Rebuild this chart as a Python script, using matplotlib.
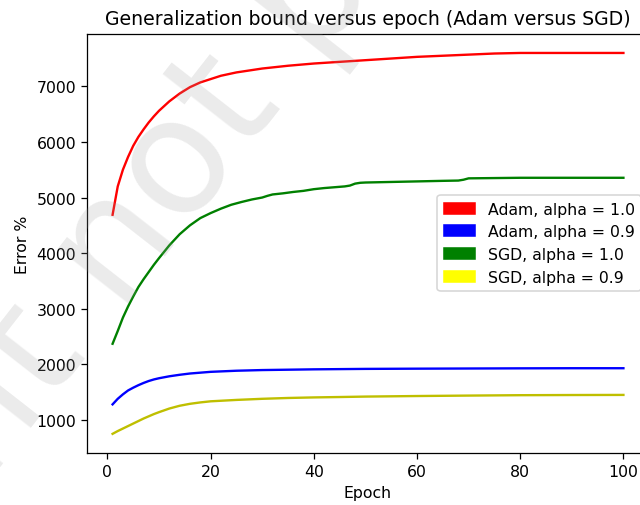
import matplotlib
matplotlib.use("Agg")
import matplotlib.pyplot as plt
import matplotlib.patches as mpatches

# Generalization bound per epoch for each optimiser / alpha setting
adam_10_epochs = [1, 2, 3, 4, 5, 6, 7, 8, 9, 10, 12, 14, 16, 18, 20, 22, 25, 30, 35,
                  40, 45, 50, 55, 60, 65, 70, 75, 80, 90, 100]
adam_10_bound = [4690, 5200, 5500, 5730, 5930, 6090, 6225, 6350, 6460, 6560, 6730,
                 6870, 6985, 7070, 7130, 7190, 7250, 7320, 7370, 7410, 7440, 7470,
                 7500, 7530, 7550, 7570, 7590, 7600, 7600, 7600]

adam_09_epochs = [1, 2, 3, 4, 5, 6, 7, 8, 9, 10, 12, 14, 16, 18, 20, 25, 30, 40, 50,
                  60, 70, 80, 90, 100]
adam_09_bound = [1280, 1380, 1460, 1530, 1580, 1625, 1665, 1700, 1728, 1750, 1785,
                 1812, 1835, 1850, 1865, 1885, 1897, 1910, 1918, 1922, 1925, 1928,
                 1930, 1930]

sgd_10_epochs = [1, 2, 3, 4, 5, 6, 7, 8, 9, 10, 12, 14, 16, 18, 20, 22, 24, 26, 28,
                 30, 31, 32, 34, 36, 38, 40, 42, 44, 46, 47, 48, 49, 50, 55, 60, 65,
                 68, 69, 70, 75, 80, 90, 100]
sgd_10_bound = [2370, 2600, 2840, 3040, 3220, 3390, 3530, 3660, 3790, 3910, 4140,
                4340, 4500, 4630, 4720, 4800, 4870, 4920, 4965, 5000, 5030, 5055,
                5075, 5100, 5120, 5150, 5170, 5185, 5200, 5215, 5250, 5265, 5270,
                5280, 5290, 5300, 5305, 5320, 5345, 5350, 5355, 5355, 5355]

sgd_09_epochs = [1, 2, 3, 4, 5, 6, 7, 8, 9, 10, 12, 14, 16, 18, 20, 25, 30, 35, 40,
                 45, 50, 60, 70, 80, 90, 100]
sgd_09_bound = [750, 800, 845, 890, 935, 980, 1025, 1065, 1105, 1140, 1205, 1255,
                1290, 1315, 1335, 1360, 1380, 1395, 1405, 1412, 1420, 1430, 1438,
                1445, 1448, 1450]

legend_labels = ["Adam, alpha = 1.0", "Adam, alpha = 0.9",
                 "SGD, alpha = 1.0", "SGD, alpha = 0.9"]

DPI = 113.3
fig = plt.figure(figsize=(640 / DPI, 506 / DPI), dpi=DPI)
ax = fig.add_axes([0.136, 0.103, 0.878, 0.828])

ax.plot(adam_10_epochs, adam_10_bound, color="r")
ax.plot(adam_09_epochs, adam_09_bound, color="b")
ax.plot(sgd_10_epochs, sgd_10_bound, color="g")
ax.plot(sgd_09_epochs, sgd_09_bound, color="y")

handles = [mpatches.Patch(color=c, label=l)
           for c, l in zip(["red", "blue", "green", "yellow"], legend_labels)]
ax.legend(handles=handles, loc="center right")

ax.set_title("Generalization bound versus epoch (Adam versus SGD)")
ax.set_xlabel("Epoch")
ax.set_ylabel("Error %")

# diagonal watermark across the page
fig.text(0.51, 1.045, "Preprint not peer reviewed", fontsize=103, rotation=52,
         rotation_mode="anchor", ha="center", va="center",
         color="#9a9a9a", alpha=0.2, zorder=10)

fig.savefig("out.png", dpi=DPI)
